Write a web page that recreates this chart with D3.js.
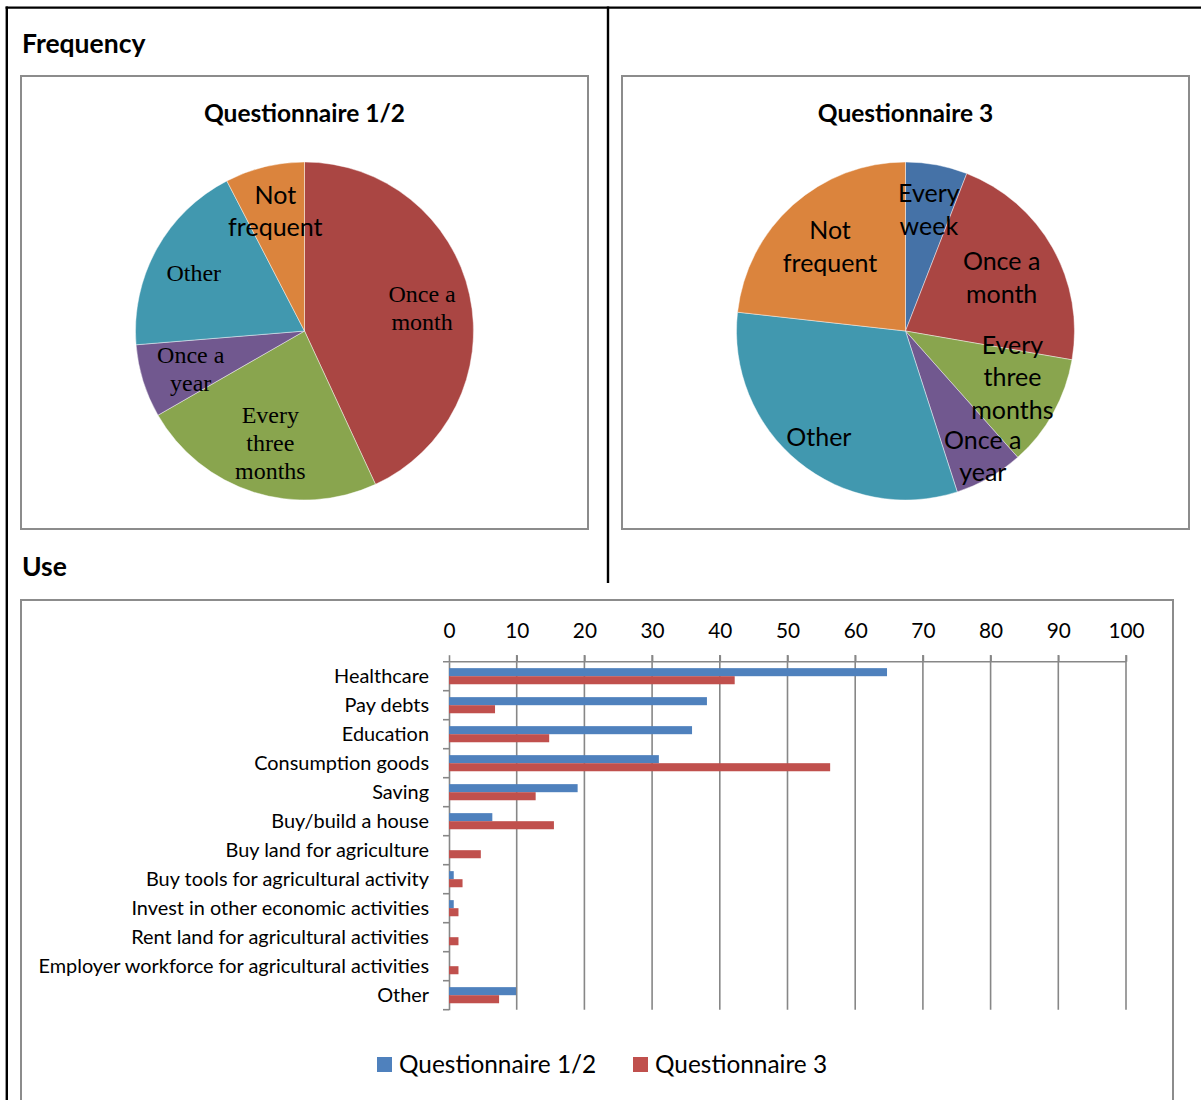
<!DOCTYPE html>
<html>
<head>
<meta charset="utf-8">
<script src="https://cdn.jsdelivr.net/npm/d3@7/dist/d3.min.js"></script>
<style>
  html, body { margin: 0; padding: 0; background: #fff; }
  svg { display: block; }
</style>
</head>
<body>
<svg id="chart" width="1201" height="1100"></svg>
<script>
// ---- Frequency (pie charts) ----
const freqCategories = ["Every week", "Once a month", "Every three months", "Once a year", "Other", "Not frequent"];
const freqQ12 = [0, 43.1, 23.6, 7.0, 18.7, 7.6];
const freqQ3 = [5.9, 21.8, 10.7, 6.6, 31.7, 23.2];

// ---- Use (bar chart) ----
const useCategories = [
  "Healthcare", "Pay debts", "Education", "Consumption goods", "Saving",
  "Buy/build a house", "Buy land for agriculture", "Buy tools for agricultural activity",
  "Invest in other economic activities", "Rent land for agricultural activities",
  "Employer workforce for agricultural activities", "Other"
];
const useQ12 = [64.7, 38.1, 35.9, 31.0, 19.0, 6.4, 0, 0.7, 0.7, 0, 0, 9.9];
const useQ3 = [42.2, 6.8, 14.8, 56.3, 12.8, 15.5, 4.7, 2.0, 1.4, 1.4, 1.4, 7.4];
const useTicks = [0, 10, 20, 30, 40, 50, 60, 70, 80, 90, 100];
const seriesNames = ["Questionnaire 1/2", "Questionnaire 3"];

const SANS = "Lato, 'Open Sans', sans-serif";
const SERIF = "'Liberation Serif', 'DejaVu Serif', serif";

const sliceColor = d3.scaleOrdinal()
  .domain(freqCategories)
  .range(["#4572A7", "#AA4643", "#89A54E", "#71588F", "#4198AF", "#DB843D"]);
const barColor = d3.scaleOrdinal().domain(seriesNames).range(["#4F81BD", "#C0504D"]);

const labelLines = {
  "Every week": ["Every", "week"],
  "Once a month": ["Once a", "month"],
  "Every three months": ["Every", "three", "months"],
  "Once a year": ["Once a", "year"],
  "Other": ["Other"],
  "Not frequent": ["Not", "frequent"]
};

const svg = d3.select("#chart");

// page frame
const frame = svg.append("g").attr("stroke", "#000").attr("stroke-width", 2.4);
frame.append("line").attr("x1", 5.6).attr("x2", 1201).attr("y1", 7.6).attr("y2", 7.6);
frame.append("line").attr("x1", 6.8).attr("x2", 6.8).attr("y1", 6.4).attr("y2", 1100);
frame.append("line").attr("x1", 608).attr("x2", 608).attr("y1", 6.4).attr("y2", 583);

// section headings
svg.append("text").attr("x", 22).attr("y", 53).text("Frequency")
  .attr("font-family", SANS).attr("font-weight", 700).attr("font-size", 26.5).attr("fill", "#000");
svg.append("text").attr("x", 22).attr("y", 576).text("Use")
  .attr("font-family", SANS).attr("font-weight", 700).attr("font-size", 26.5).attr("fill", "#000");

function chartBox(x, y, w, h) {
  svg.append("rect").attr("x", x).attr("y", y).attr("width", w).attr("height", h)
    .attr("fill", "#fff").attr("stroke", "#8c8c8c").attr("stroke-width", 2);
}

// ---- pies ----
function drawPie(opts) {
  const { box, title, values, cx, cy, r, layout, fonts } = opts;
  chartBox(box[0], box[1], box[2], box[3]);
  svg.append("text").attr("x", cx).attr("y", 122).attr("text-anchor", "middle")
    .attr("font-family", SANS).attr("font-weight", 700).attr("font-size", 24.5)
    .attr("fill", "#000").text(title);

  const data = freqCategories.map((c, i) => ({ cat: c, value: values[i] }));
  const pie = d3.pie().sort(null).value(d => d.value);
  const arcs = pie(data);
  const arc = d3.arc().innerRadius(0).outerRadius(r);
  const g = svg.append("g").attr("transform", `translate(${cx},${cy})`);

  g.selectAll("path").data(arcs).join("path")
    .attr("d", arc)
    .attr("fill", d => sliceColor(d.data.cat))
    .attr("stroke", "rgba(255,255,255,0.55)")
    .attr("stroke-width", 0.8);

  const labels = g.selectAll("g.lbl").data(arcs.filter(d => d.value > 0)).join("g").attr("class", "lbl");
  labels.each(function (d) {
    const lay = layout[d.data.cat] || { k: 0.72, da: 0 };
    const a = (d.startAngle + d.endAngle) / 2 + (lay.da || 0) * Math.PI / 180;
    const px = Math.sin(a) * r * lay.k;
    const py = -Math.cos(a) * r * lay.k;
    const f = fonts[d.data.cat] || fonts.default;
    const lines = labelLines[d.data.cat];
    const t = d3.select(this).append("text")
      .attr("text-anchor", "middle")
      .attr("font-family", f.family)
      .attr("font-size", f.size)
      .attr("fill", "#000");
    lines.forEach((ln, i) => {
      t.append("tspan")
        .attr("x", px)
        .attr("y", py + (i - (lines.length - 1) / 2) * f.lh)
        .attr("dy", "0.35em")
        .text(ln);
    });
  });
}

const sansLabel = { family: SANS, size: 25, lh: 32.5 };
const serifLabel = { family: SERIF, size: 24, lh: 28 };

drawPie({
  box: [21, 76, 567, 453],
  title: "Questionnaire 1/2",
  values: freqQ12,
  cx: 304.5, cy: 331, r: 169,
  layout: {
    "Once a month": { k: 0.71, da: 1 },
    "Every three months": { k: 0.69, da: -0.6 },
    "Once a year": { k: 0.71, da: -1.2 },
    "Other": { k: 0.74, da: -1.3 },
    "Not frequent": { k: 0.73, da: 0 }
  },
  fonts: { default: serifLabel, "Not frequent": sansLabel }
});

drawPie({
  box: [622, 76, 567, 453],
  title: "Questionnaire 3",
  values: freqQ3,
  cx: 905.5, cy: 331, r: 169,
  layout: {
    "Every week": { k: 0.73, da: 0.3 },
    "Once a month": { k: 0.65, da: 0.5 },
    "Every three months": { k: 0.69, da: -5.6 },
    "Once a year": { k: 0.87, da: -2 },
    "Other": { k: 0.81, da: 0 },
    "Not frequent": { k: 0.67, da: 0 }
  },
  fonts: { default: sansLabel }
});

// ---- bar chart ----
chartBox(21, 600, 1152, 520);

const x = d3.scaleLinear().domain([0, 100]).range([449, 1126]);
const y = d3.scaleBand().domain(useCategories).range([661.7, 1009.7]).padding(0);
const ySub = d3.scaleBand().domain(seriesNames).range([0, y.bandwidth()]).paddingInner(0).paddingOuter(0.8);

const gridColor = "#878787";
const bars = svg.append("g");

// vertical gridlines (incl. tick marks above the axis)
bars.append("g").selectAll("line").data(useTicks.filter(t => t > 0)).join("line")
  .attr("x1", d => x(d)).attr("x2", d => x(d))
  .attr("y1", 655).attr("y2", 1009.7)
  .attr("stroke", gridColor).attr("stroke-width", 1.6);

// top value axis
const xAxis = d3.axisTop(x).tickValues(useTicks).tickSize(6.5).tickPadding(17).tickFormat(d3.format("d"));
const gx = bars.append("g").attr("transform", "translate(0,661.7)").call(xAxis);
gx.select(".domain").remove();
gx.selectAll(".tick line").attr("stroke", gridColor).attr("stroke-width", 1.6);
gx.selectAll(".tick text").attr("font-family", SANS).attr("font-size", 20.8).attr("fill", "#000");
bars.append("line").attr("x1", 443).attr("x2", x(100)).attr("y1", 661.7).attr("y2", 661.7)
  .attr("stroke", gridColor).attr("stroke-width", 1.6);

// category axis
const yAxis = d3.axisLeft(y).tickSize(0).tickPadding(20);
const gy = bars.append("g").attr("transform", `translate(${x(0)},0)`).call(yAxis);
gy.select(".domain").attr("stroke", gridColor).attr("stroke-width", 1.6);
gy.selectAll(".tick text").attr("font-family", SANS).attr("font-size", 19.9).attr("fill", "#000");
// category boundary tick marks
bars.append("g").selectAll("line").data(useCategories.slice(1).concat([null])).join("line")
  .attr("x1", x(0) - 6).attr("x2", x(0))
  .attr("y1", (d, i) => y.range()[0] + (i + 1) * y.step())
  .attr("y2", (d, i) => y.range()[0] + (i + 1) * y.step())
  .attr("stroke", gridColor).attr("stroke-width", 1.6);

const barData = [];
useCategories.forEach((c, i) => {
  barData.push({ cat: c, series: seriesNames[0], value: useQ12[i] });
  barData.push({ cat: c, series: seriesNames[1], value: useQ3[i] });
});
bars.append("g").selectAll("rect").data(barData.filter(d => d.value > 0)).join("rect")
  .attr("x", x(0))
  .attr("y", d => y(d.cat) + ySub(d.series))
  .attr("width", d => x(d.value) - x(0))
  .attr("height", ySub.bandwidth())
  .attr("fill", d => barColor(d.series));

// legend
const legend = svg.append("g").attr("font-family", SANS).attr("font-size", 24.4);
const legendX = [377, 633];
seriesNames.forEach((s, i) => {
  legend.append("rect").attr("x", legendX[i]).attr("y", 1057).attr("width", 15).attr("height", 15)
    .attr("fill", barColor(s));
  legend.append("text").attr("x", legendX[i] + 22).attr("y", 1064.5).attr("dy", "0.35em")
    .attr("fill", "#000").text(s);
});
</script>
</body>
</html>
